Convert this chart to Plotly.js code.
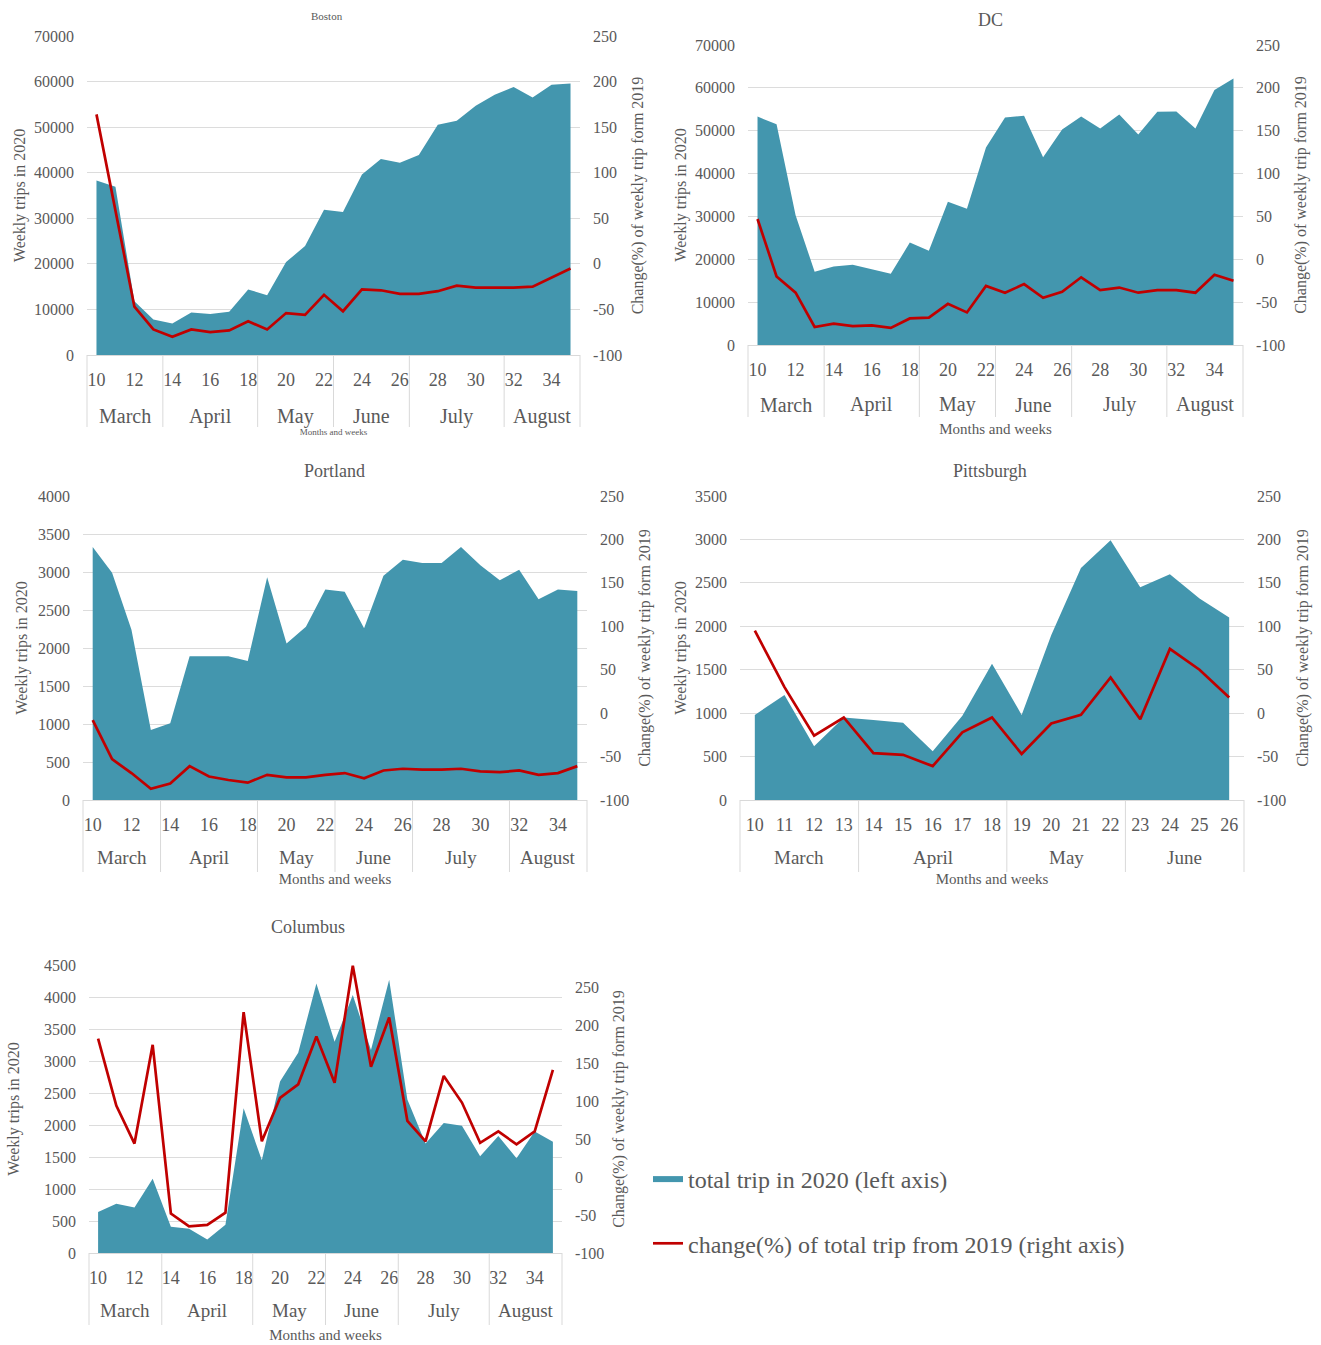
<!DOCTYPE html>
<html><head><meta charset="utf-8">
<script src="https://cdn.plot.ly/plotly-3.0.1.min.js"></script>
<style>html,body{margin:0;padding:0;background:#fff}</style>
</head><body><div id="chart" style="width:1321px;height:1345px"></div>
<script>
// ---------- data ----------
const weeks = [10,11,12,13,14,15,16,17,18,19,20,21,22,23,24,25,26,27,28,29,30,31,32,33,34,35];
const pittsburghWeeks = [10,11,12,13,14,15,16,17,18,19,20,21,22,23,24,25,26];
const monthNames = ['March','April','May','June','July','August'];
const monthFirstWeek = [10,14,19,23,27,32];

const bostonTrips = [38300,36900,11800,7800,6900,9300,9000,9500,14400,13100,20400,23900,31900,31400,39600,43000,42200,43900,50500,51400,54700,57100,58800,56500,59300,59600];
const bostonChange = [164,60,-47,-72,-80,-72,-75,-73,-63,-72,-54,-56,-34,-52,-28,-29,-33,-33,-30,-24,-26,-26,-26,-25,-15,-5];

const dcTrips = [53300,51500,30300,17100,18300,18700,17700,16600,23900,22000,33400,31800,46100,53100,53500,43800,50300,53300,50500,53800,49100,54400,54500,50500,59500,62200];
const dcChange = [47,-20,-39,-79,-75,-78,-77,-80,-69,-68,-52,-62,-31,-39,-29,-45,-38,-21,-36,-33,-39,-36,-36,-39,-18,-25];

const portlandTrips = [3330,2990,2240,920,1010,1890,1890,1890,1830,2930,2060,2280,2770,2740,2260,2950,3160,3120,3120,3330,3090,2890,3030,2640,2770,2750];
const portlandChange = [-8,-53,-69,-87,-81,-61,-73,-77,-80,-71,-74,-74,-71,-69,-75,-66,-64,-65,-65,-64,-67,-68,-66,-71,-69,-61];

const pittsburghTrips = [980,1210,620,950,920,890,560,970,1570,980,1900,2670,2990,2450,2600,2320,2100];
const pittsburghChange = [95,30,-26,-5,-46,-48,-61,-22,-5,-47,-12,-2,41,-7,74,50,18];

const columbusTrips = [640,770,710,1160,410,380,210,440,2260,1450,2680,3130,4210,3300,4030,3170,4270,2400,1710,2030,1990,1510,1830,1480,1900,1740];
const columbusChange = [182,94,44,174,-48,-65,-63,-47,217,47,104,122,185,124,278,145,210,74,47,133,98,45,60,43,60,141];

const tripsName = 'total trip in 2020 (left axis)';
const changeName = 'change(%) of total trip from 2019 (right axis)';
const leftTitle = 'Weekly trips in 2020';
const rightTitle = 'Change(%) of weekly trip form 2019';
const xTitle = 'Months and weeks';

// ---------- layout config ----------
const W = 1321, H = 1345;
const FONT = '"Liberation Serif", "Times New Roman", serif';
const TXT = '#595959';
const GRID = '#DCDCDC';
const AREA = '#4396AE';
const RED = '#C00000';

const panels = [
  {title:'Boston', w:weeks, trips:bostonTrips, change:bostonChange, box:{l:87,r:580,t:36,b:355},
   yMax:70000, yStep:10000, y2:[-100,250], every:2, titleXY:[327,16],
   f:{title:11, tick:16, week:18, month:20, ytitle:16, xtitle:9}, lso:4, rso:10, xso:40, mo:61},
  {title:'DC', w:weeks, trips:dcTrips, change:dcChange, box:{l:748,r:1243,t:45,b:345},
   yMax:70000, yStep:10000, y2:[-100,250], every:2, titleXY:[990,20],
   f:{title:18, tick:16, week:18, month:20, ytitle:16, xtitle:15}, lso:4, rso:10, xso:44, mo:60},
  {title:'Portland', w:weeks, trips:portlandTrips, change:portlandChange, box:{l:83,r:587,t:496,b:800},
   yMax:4000, yStep:500, y2:[-100,250], every:2, titleXY:[334,471],
   f:{title:18, tick:16, week:18, month:19, ytitle:16, xtitle:15}, lso:6, rso:10, xso:39, mo:57},
  {title:'Pittsburgh', w:pittsburghWeeks, trips:pittsburghTrips, change:pittsburghChange, box:{l:740,r:1244,t:496,b:800},
   yMax:3500, yStep:500, y2:[-100,250], every:1, titleXY:[990,471],
   f:{title:18, tick:16, week:18, month:19, ytitle:16, xtitle:15}, lso:4, rso:11, xso:39, mo:57},
  {title:'Columbus', w:weeks, trips:columbusTrips, change:columbusChange, box:{l:89,r:562,t:965,b:1253},
   yMax:4500, yStep:500, y2:[-100,279], every:2, titleXY:[308,927],
   f:{title:18, tick:16, week:18, month:19, ytitle:16, xtitle:15}, lso:20, rso:9, xso:42, mo:57}
];

function ticksFor(lo, hi, step) {
  const v = [];
  for (let t = Math.ceil(lo / step) * step; t <= hi + 1e-9; t += step) v.push(t);
  return v;
}

const traces = [];
const layout = {
  width:W, height:H, margin:{l:0,r:0,t:0,b:0},
  paper_bgcolor:'#ffffff', plot_bgcolor:'rgba(0,0,0,0)',
  font:{family:FONT, color:TXT, size:16},
  showlegend:true,
  legend:{x:648/W, xanchor:'left', y:1-1157/H, yanchor:'top', font:{size:24, color:TXT, family:FONT},
          traceorder:'grouped', tracegroupgap:30, bgcolor:'rgba(0,0,0,0)'},
  annotations:[], shapes:[]
};

panels.forEach((p, i) => {
  const xid = i === 0 ? 'x' : 'x' + (i + 1);
  const xkey = i === 0 ? 'xaxis' : 'xaxis' + (i + 1);
  const y1id = i === 0 ? 'y' : 'y' + (2 * i + 1);
  const y1key = i === 0 ? 'yaxis' : 'yaxis' + (2 * i + 1);
  const y2id = 'y' + (2 * i + 2);
  const y2key = 'yaxis' + (2 * i + 2);
  const b = p.box;
  const first = p.w[0], last = p.w[p.w.length - 1];
  const r0 = first - 0.5, r1 = last + 0.5;
  const tickvals = p.w.filter(v => (v - first) % p.every === 0);
  const y1ticks = ticksFor(0, p.yMax, p.yStep);
  const y2ticks = ticksFor(p.y2[0], p.y2[1], 50);

  traces.push({
    type:'scatter', x:p.w, y:p.trips, xaxis:xid, yaxis:y1id, mode:'none',
    fill:'tozeroy', fillcolor:AREA, name:tripsName, legendgroup:'trips',
    showlegend:i === 0, hoverinfo:'x+y'
  });
  traces.push({
    type:'scatter', x:p.w, y:p.change, xaxis:xid, yaxis:y2id, mode:'lines',
    line:{color:RED, width:2.7}, name:changeName, legendgroup:'change',
    showlegend:i === 0, hoverinfo:'x+y'
  });

  layout[xkey] = {
    domain:[b.l / W, b.r / W], anchor:y1id, range:[r0, r1],
    tickmode:'array', tickvals:tickvals, ticktext:tickvals.map(String),
    ticks:'', showgrid:false, zeroline:false, showline:true, linecolor:'#D9D9D9', linewidth:1,
    tickfont:{size:p.f.week, color:TXT}, ticklabelstandoff:8, fixedrange:true,
    title:{text:xTitle, font:{size:p.f.xtitle, color:TXT}, standoff:p.xso}
  };
  layout[y1key] = {
    domain:[1 - b.b / H, 1 - b.t / H], anchor:xid, range:[0, p.yMax],
    tickmode:'array', tickvals:y1ticks, ticktext:y1ticks.map(String),
    showgrid:true, gridcolor:GRID, gridwidth:1, zeroline:false, ticks:'', showline:false,
    tickfont:{size:p.f.tick, color:TXT}, ticklabelstandoff:12, fixedrange:true,
    title:{text:leftTitle, font:{size:p.f.ytitle, color:TXT}, standoff:p.lso}
  };
  layout[y2key] = {
    overlaying:y1id, side:'right', anchor:xid, range:p.y2,
    tickmode:'array', tickvals:y2ticks, ticktext:y2ticks.map(String),
    showgrid:false, zeroline:false, ticks:'', showline:false,
    tickfont:{size:p.f.tick, color:TXT}, ticklabelstandoff:12, fixedrange:true,
    title:{text:rightTitle, font:{size:p.f.ytitle, color:TXT}, standoff:p.rso}
  };

  // chart title
  layout.annotations.push({
    text:p.title, xref:'paper', yref:'paper', x:p.titleXY[0] / W, y:1 - p.titleXY[1] / H,
    xanchor:'center', yanchor:'middle', showarrow:false, font:{size:p.f.title, color:TXT}
  });

  // month groups: labels and dividers, from the month arrays
  const toPaperX = wk => (b.l + (wk - r0) / (r1 - r0) * (b.r - b.l)) / W;
  const ms = monthNames.map((m, k) => ({name:m, s:monthFirstWeek[k],
      e:(k + 1 < monthFirstWeek.length ? monthFirstWeek[k + 1] - 1 : Infinity)}))
    .filter(m => m.s <= last)
    .map(m => ({name:m.name, s:Math.max(m.s, first), e:Math.min(m.e, last)}));
  const bounds = ms.map(m => m.s - 0.5).concat([last + 0.5]);
  bounds.forEach(v => layout.shapes.push({
    type:'line', xref:'paper', yref:'paper', x0:toPaperX(v), x1:toPaperX(v),
    y0:1 - b.b / H, y1:1 - (b.b + 72) / H, line:{color:'#D9D9D9', width:1}
  }));
  ms.forEach(m => layout.annotations.push({
    text:m.name, xref:xid, yref:'paper', x:(m.s + m.e) / 2, y:1 - (b.b + p.mo) / H,
    xanchor:'center', yanchor:'middle', showarrow:false, font:{size:p.f.month, color:TXT}
  }));
});

Plotly.newPlot('chart', traces, layout, {staticPlot:true, displayModeBar:false});
</script>
</body></html>
